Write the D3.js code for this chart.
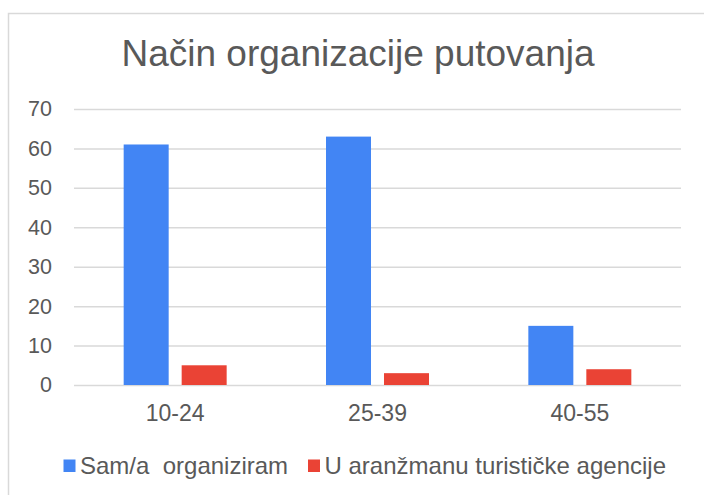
<!DOCTYPE html>
<html><head><meta charset="utf-8">
<script src="https://cdn.jsdelivr.net/npm/d3@7"></script>
<style>html,body{margin:0;padding:0;background:#fff;}svg{display:block;}</style>
</head><body><svg id="c" width="704" height="495"></svg>
<script>
const categories = ["10-24", "25-39", "40-55"];
const seriesNames = ["Sam/a  organiziram", "U aranžmanu turističke agencije"];
const samValues = [61, 63, 15];
const agencyValues = [5, 3, 4];
const yTicks = [0, 10, 20, 30, 40, 50, 60, 70];
const colors = ["#4285F4", "#EA4335"];
const title = "Način organizacije putovanja";

const svg = d3.select("#c");
const font = "'Liberation Sans', Arial, sans-serif";
const textColor = "#595959";

// frame
svg.append("path").attr("d", "M8.5,704 V13.5 H704").attr("fill", "none")
  .attr("stroke", "#d9d9d9").attr("stroke-width", 1.5);

svg.append("text").attr("x", 358).attr("y", 66).attr("text-anchor", "middle")
  .attr("font-family", font).attr("font-size", 37).attr("fill", textColor).text(title);

const x0 = d3.scaleBand().domain(categories).range([74, 681]).paddingInner(0.491).paddingOuter(0.2455);
const x1 = d3.scaleBand().domain([0, 1]).range([0, x0.bandwidth()]).paddingInner(0.224);
const y = d3.scaleLinear().domain([0, 70]).range([385, 109]);

const yAxis = d3.axisLeft(y).tickValues(yTicks).tickSize(-(681 - 74)).tickPadding(22);
const gy = svg.append("g").attr("transform", "translate(74,0)").call(yAxis);
gy.select(".domain").remove();
gy.selectAll(".tick line").attr("stroke", "#d9d9d9").attr("stroke-width", 1.5);
gy.selectAll(".tick text").attr("font-family", font).attr("font-size", 21.5).attr("fill", textColor);

const xAxis = d3.axisBottom(x0).tickSize(0).tickPadding(20);
const gx = svg.append("g").attr("transform", "translate(0,385)").call(xAxis);
gx.select(".domain").remove();
gx.selectAll(".tick text").attr("font-family", font).attr("font-size", 23).attr("fill", textColor);

const data = categories.map((c, i) => ({cat: c, vals: [samValues[i], agencyValues[i]]}));
svg.append("g").selectAll("g").data(data).join("g")
  .attr("transform", d => `translate(${x0(d.cat)},0)`)
  .selectAll("rect").data(d => d.vals.map((v, k) => ({v, k}))).join("rect")
  .attr("x", d => x1(d.k)).attr("width", x1.bandwidth())
  .attr("y", d => y(d.v)).attr("height", d => y(0) - y(d.v))
  .attr("fill", d => colors[d.k]);

// legend
const legendItems = [{x: 63.5, k: 0}, {x: 308, k: 1}];
const lg = svg.append("g");
legendItems.forEach(it => {
  lg.append("rect").attr("x", it.x).attr("y", 459.5).attr("width", 12).attr("height", 12.5).attr("fill", colors[it.k]);
  lg.append("text").attr("x", it.x + 16.5).attr("y", 473.5).attr("font-family", font).attr("font-size", 24)
    .attr("fill", textColor).attr("xml:space", "preserve").style("white-space", "pre").text(seriesNames[it.k]);
});
</script></body></html>
